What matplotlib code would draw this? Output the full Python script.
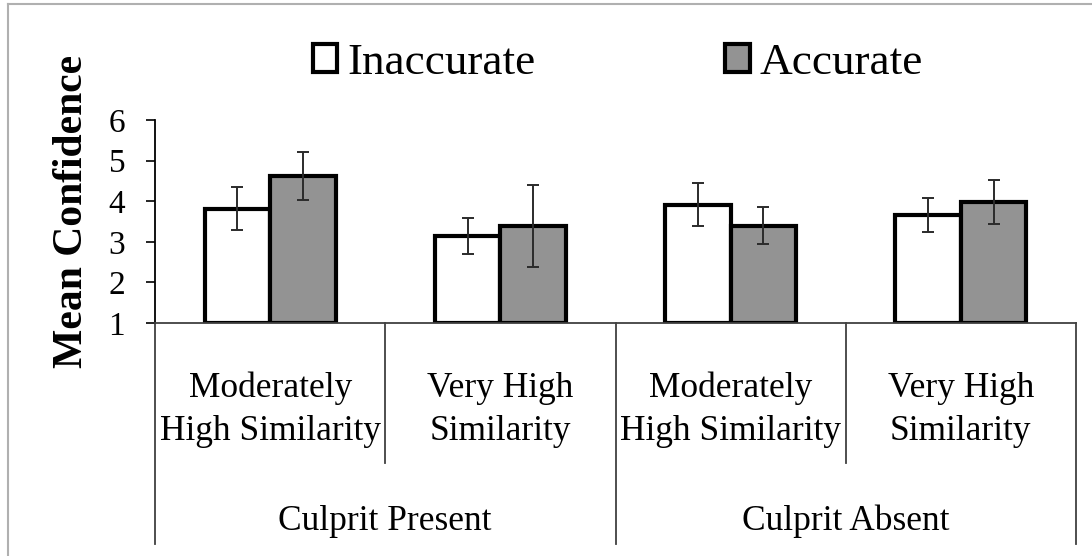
import matplotlib
matplotlib.use("Agg")
import matplotlib.pyplot as plt
import matplotlib.transforms as mtransforms
from matplotlib.lines import Line2D
import numpy as np

# ---- data ----
sub_labels = ["Moderately\nHigh Similarity", "Very High\nSimilarity",
              "Moderately\nHigh Similarity", "Very High\nSimilarity"]
top_labels = ["Culprit Present", "Culprit Absent"]
series_names = ["Inaccurate", "Accurate"]
inaccurate = [3.82, 3.14, 3.91, 3.66]
inaccurate_err = [0.53, 0.44, 0.53, 0.43]
accurate = [4.62, 3.39, 3.40, 3.99]
accurate_err = [0.60, 1.00, 0.45, 0.54]
y_ticks = [1, 2, 3, 4, 5, 6]

plt.rcParams['font.family'] = ['Liberation Serif', 'DejaVu Serif']

W, H = 1092, 556
fig = plt.figure(figsize=(W / 100, H / 100), dpi=100)
ax = fig.add_axes([155 / W, 1 - 323 / H, (1076 - 155) / W, (323 - 120) / H])

x = np.arange(len(sub_labels))
bw = 0.285
base = 1
edge_lw = 3.0
b1 = ax.bar(x - bw / 2, np.array(inaccurate) - base, bw, bottom=base,
            color="white", edgecolor="black", linewidth=edge_lw, zorder=2,
            label=series_names[0])
b2 = ax.bar(x + bw / 2, np.array(accurate) - base, bw, bottom=base,
            color="#939393", edgecolor="black", linewidth=edge_lw, zorder=2,
            label=series_names[1])
ekw = dict(fmt="none", ecolor="#2b2b2b", elinewidth=1.4, capsize=4.3,
           capthick=1.4, zorder=3)
ax.errorbar(x - bw / 2, inaccurate, yerr=inaccurate_err, **ekw)
ax.errorbar(x + bw / 2, accurate, yerr=accurate_err, **ekw)

ax.set_xlim(-0.5, len(sub_labels) - 0.5)
ax.set_ylim(1, 6)
ax.set_yticks(y_ticks)
ax.tick_params(axis="y", direction="out", length=6.5, width=1.2,
               labelsize=24, pad=15, colors="black")
ax.set_xticks([])
for s in ["top", "right"]:
    ax.spines[s].set_visible(False)
ax.spines["left"].set_linewidth(1.3)
ax.spines["bottom"].set_linewidth(1.3)
ax.spines["bottom"].set_color("#404040")

ax.set_ylabel("Mean Confidence", fontsize=30, fontweight="bold")
ax.yaxis.set_label_coords(-0.0695, 0.552)

# multi-level category axis
trans = mtransforms.blended_transform_factory(ax.transData, ax.transAxes)
ax_h = 323 - 120
long_bottom = -(544 - 323) / ax_h
short_bottom = -(463 - 323) / ax_h
n = len(sub_labels)
for i in range(n + 1):
    xb = i - 0.5
    yb = long_bottom if i % 2 == 0 else short_bottom
    ax.plot([xb, xb], [0, yb], color="#404040", lw=1.3, transform=trans,
            clip_on=False)
for i, lab in enumerate(sub_labels):
    ax.text(i, -(410 - 323) / ax_h, lab, transform=trans, ha="center",
            va="center", fontsize=25.5, linespacing=1.4)
for j, lab in enumerate(top_labels):
    ax.text(2 * j + 0.5, -(521 - 323) / ax_h, lab, transform=trans,
            ha="center", va="center", fontsize=25.5)

# legend
fig.legend(handles=[b1, b2], labels=series_names, loc="center",
           bbox_to_anchor=(618 / W, 1 - 63 / H), ncol=2, frameon=False,
           fontsize=32.5, handlelength=0.55, handleheight=0.55,
           handletextpad=0.22, columnspacing=4.2, borderpad=0, borderaxespad=0)

# outer frame
fig.add_artist(Line2D([7.5 / W, 1], [1 - 4 / H, 1 - 4 / H], color="#b0b0b0",
                      lw=1.5, transform=fig.transFigure))
fig.add_artist(Line2D([7.5 / W, 7.5 / W], [0, 1 - 4 / H], color="#b0b0b0",
                      lw=1.5, transform=fig.transFigure))

fig.savefig("out.png", dpi=100)
